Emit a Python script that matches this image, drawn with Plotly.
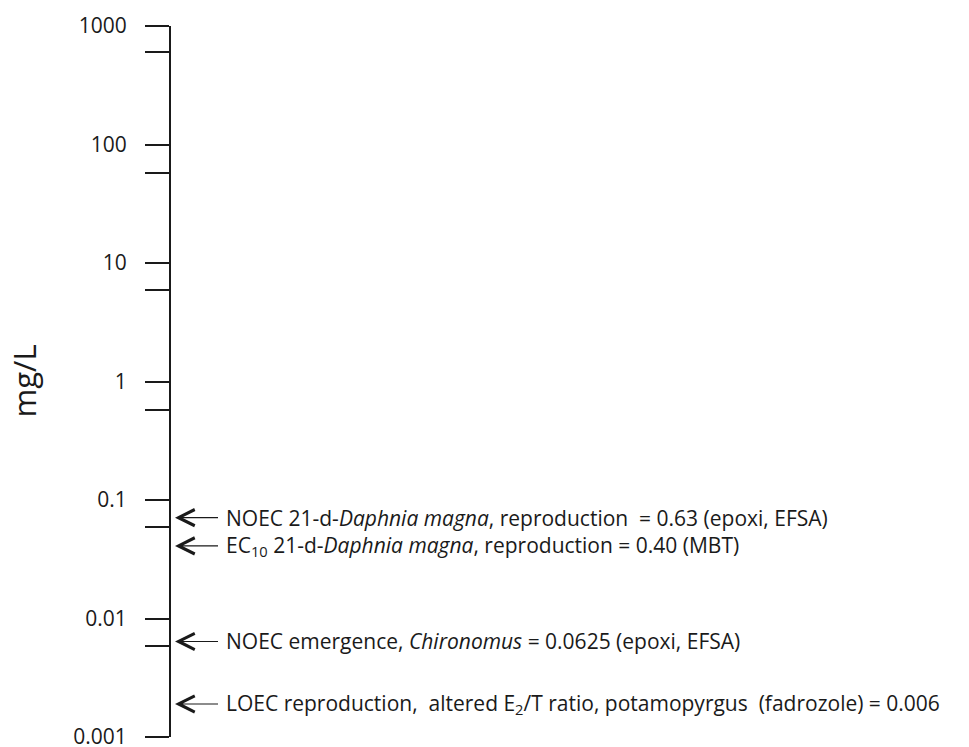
import math
import plotly.graph_objects as go

# ---- data ----
decade_ticks = [0.001, 0.01, 0.1, 1, 10, 100, 1000]
tick_labels = ["0.001", "0.01", "0.1", "1", "10", "100", "1000"]
minor_ticks = [0.0059, 0.059, 0.57, 5.9, 57, 600]

endpoint_values = [0.071, 0.041, 0.0064, 0.0019]
endpoint_labels = [
    "NOEC 21-d-<i>Daphnia magna</i>, reproduction  = 0.63 (epoxi, EFSA)",
    "EC<sub>10</sub> 21-d-<i>Daphnia magna</i>, reproduction = 0.40 (MBT)",
    "NOEC emergence, <i>Chironomus</i> = 0.0625 (epoxi, EFSA)",
    "LOEC reproduction,  altered E<sub>2</sub>/T ratio, potamopyrgus  (fadrozole) = 0.006",
]
y_title = "mg/L"

FONT = "Open Sans"
INK = "#1a1a1a"

fig = go.Figure()
# invisible trace to establish axes
fig.add_trace(go.Scatter(x=[0, 0], y=[decade_ticks[0], decade_ticks[-1]],
                         mode="markers", marker=dict(opacity=0),
                         hoverinfo="skip", showlegend=False))

for v, lab in zip(endpoint_values, endpoint_labels):
    fig.add_annotation(
        x=0, y=math.log10(v), xref="x", yref="y",
        text=lab, showarrow=True,
        ax=53, ay=0, axref="pixel", ayref="pixel",
        xanchor="left", yanchor="middle",
        arrowhead=5, arrowsize=2.9, arrowwidth=1.1, arrowcolor=INK,
        standoff=4, startstandoff=6,
        font=dict(family=FONT, size=21, color=INK),
        align="left",
    )

fig.add_annotation(
    x=0, y=0.5, xref="paper", yref="paper",
    text=y_title, showarrow=False, textangle=-90,
    xshift=-148, xanchor="center", yanchor="middle",
    font=dict(family=FONT, size=31, color=INK),
)

fig.update_yaxes(
    type="log", range=[-3, 3], automargin=False,
    tickmode="array", tickvals=decade_ticks, ticktext=tick_labels,
    ticks="outside", ticklen=24, tickwidth=2, tickcolor=INK,
    showline=True, linewidth=2, linecolor=INK,
    showgrid=False, zeroline=False,
    ticklabelstandoff=14, ticklabeloverflow="allow",
    tickfont=dict(family=FONT, size=21, color=INK),
    minor=dict(tickmode="array", tickvals=minor_ticks, ticks="outside",
               ticklen=24, tickwidth=2, tickcolor=INK, showgrid=False),
)
fig.update_xaxes(visible=False, range=[0, 1], automargin=False)

fig.update_layout(
    width=969, height=747,
    margin=dict(l=171, r=10, t=26, b=10),
    paper_bgcolor="white", plot_bgcolor="white",
    showlegend=False,
)

fig.write_html("out.html")
